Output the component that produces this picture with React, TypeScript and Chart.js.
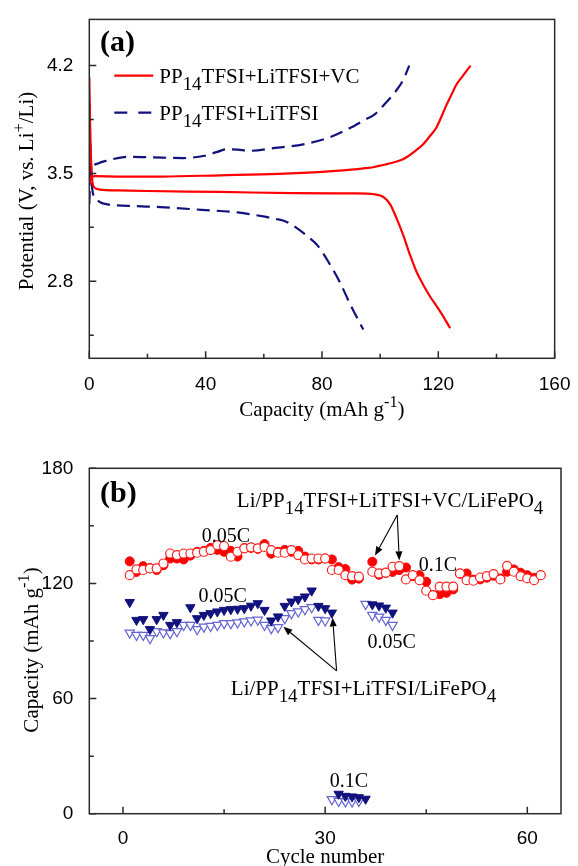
import React, { useEffect, useRef } from 'react';
import { Chart, registerables } from 'chart.js';

Chart.register(...registerables);

// ---------------- Panel (a): charge / discharge profiles ----------------
const vcChargeCapacity = [0, 0.6, 2, 10, 25, 45, 65, 80, 90, 95, 98, 101, 104, 107, 109.5, 112, 114.8, 117, 119.3, 121, 122.7, 124.5, 126.1, 128.5, 131.1];
const vcChargeVoltage = [3.42, 3.475, 3.482, 3.48, 3.48, 3.488, 3.497, 3.51, 3.525, 3.535, 3.542, 3.555, 3.568, 3.585, 3.61, 3.645, 3.69, 3.74, 3.797, 3.865, 3.94, 4.01, 4.073, 4.135, 4.2];
const vcDischargeCapacityA = [0, 0.3, 0.7, 1.2, 2, 3.6, 10, 20, 45, 70, 85, 92, 97.9, 101.3, 103.5, 105.8, 108, 110.3, 112.5, 114.8, 117.1, 120.5, 124.1];
const vcDischargeVoltage = [4.125, 3.8, 3.55, 3.43, 3.405, 3.395, 3.39, 3.386, 3.38, 3.372, 3.37, 3.37, 3.365, 3.345, 3.298, 3.202, 3.096, 2.969, 2.862, 2.778, 2.703, 2.608, 2.495];
const baseChargeCapacity = [0, 0.3, 1, 3, 6, 13.4, 22.2, 32.2, 39.7, 44, 47.2, 51, 54.8, 64.8, 73.6, 82.3, 89.8, 94.9, 97.9, 101.3, 105.2, 108, 110];
const baseChargeVoltage = [3.3, 3.45, 3.53, 3.565, 3.583, 3.608, 3.604, 3.6, 3.615, 3.64, 3.657, 3.655, 3.647, 3.668, 3.689, 3.732, 3.796, 3.85, 3.88, 3.945, 4.03, 4.11, 4.2];
const baseDischargeCapacityA = [0, 0.4, 1, 2.5, 4.6, 13.4, 25.9, 38.5, 51, 59.8, 64, 67.3, 71, 74.5, 78.6, 82.3, 86.1, 89.8, 94.2];
const baseDischargeVoltage = [3.96, 3.65, 3.4, 3.33, 3.306, 3.29, 3.28, 3.264, 3.247, 3.221, 3.205, 3.19, 3.15, 3.1, 3.03, 2.923, 2.796, 2.647, 2.487];

const capacityTicks = [0, 20, 40, 60, 80, 100, 120, 140, 160];
const capacityTickLabels = [0, 40, 80, 120, 160];
const potentialTicks = [2.45, 2.8, 3.15, 3.5, 3.85, 4.2];
const potentialTickLabels = [2.8, 3.5, 4.2];

// ---------------- Panel (b): cycling ----------------
const vcDischargeCycles = [1, 2, 3, 4, 5, 6, 7, 8, 9, 10, 11, 12, 13, 14, 15, 16, 17, 18, 19, 20, 21, 22, 23, 24, 25, 26, 27, 28, 29, 30, 31, 32, 33, 34, 35,
  37, 38, 39, 40, 41, 42, 43, 44, 45, 46, 47, 48, 49, 50, 51, 52, 53, 54, 55, 56, 57, 58, 59, 60, 61];
const vcDischargeCapacity = [131.5, 126, 129, 128, 127, 129.5, 133, 133, 132.5, 134.5, 136.5, 137, 138.5, 137.5, 136.5, 137, 134, 138.5, 138.5, 138, 140.5, 135.5, 136.5, 137.5, 136.5, 137, 134, 132.5, 132.5, 133, 132.5, 128.5, 127.5, 122, 122.5,
  131.3, 124.5, 125.5, 126, 127, 128.3, 123.8, 124.3, 120.9, 114, 114.4, 115.1, 116.9, 125, 125.2, 122, 122.1, 123, 124, 122.6, 126.1, 127.3, 125.6, 124.3, 123];
const vcChargeCycles = [1, 2, 3, 4, 5, 6, 7, 8, 9, 10, 11, 12, 13, 14, 15, 16, 17, 18, 19, 20, 21, 22, 23, 24, 25, 26, 27, 28, 29, 30, 31, 32, 33, 34, 35,
  37, 38, 39, 40, 41, 42, 43, 44, 45, 46, 47, 48, 49, 50, 51, 52, 53, 54, 55, 56, 57, 58, 59, 60, 61, 62];
const vcChargeCapacityB = [124.3, 127.3, 127, 127.8, 127.8, 130.4, 135.6, 134.8, 135.6, 135.6, 136, 136.5, 137.4, 140, 139.5, 133.9, 136.5, 138.3, 138.8, 138.3, 139, 137.4, 136, 136, 137.4, 134.8, 132.5, 133, 133, 133, 127, 127, 124.3, 123.8, 123.5,
  126.1, 125.2, 125.6, 128.7, 129, 122.1, 124.3, 121.7, 116.2, 113.9, 118.3, 118.3, 118.3, 125.2, 121.7, 121.4, 123.1, 123.8, 124.9, 122.1, 129.1, 126.1, 123.8, 122.6, 121.7, 124.3];
const baseDischargeCycles = [1, 2, 3, 4, 5, 6, 7, 8, 10, 11, 12, 13, 14, 15, 16, 17, 18, 19, 20, 21, 22, 23, 24, 25, 26, 27, 28, 29, 30, 31,
  32, 33, 34, 35, 36, 37, 38, 39, 40];
const baseDischargeCapacity = [110.2, 100.9, 101.3, 96.1, 101.3, 103.5, 98.3, 99.7, 107.5, 101.8, 103.5, 104.4, 105.3, 106.1, 106.5, 106.7, 107, 108.3, 109.6, 106.1, 100.6, 102.7, 108.2, 110.5, 111.7, 113.1, 116.2, 108.2, 107, 104.7,
  10.3, 9.2, 8.9, 8.5, 7.7, 109, 108.4, 107.3, 104.7];
const baseChargeCycles = [1, 2, 3, 4, 5, 6, 7, 8, 9, 10, 11, 12, 13, 14, 15, 16, 17, 18, 19, 20, 21, 22, 23, 24, 25, 26, 27, 28, 29, 30,
  31, 32, 33, 34, 35, 36, 37, 38, 39, 40];
const baseChargeCapacityB = [94.3, 93.1, 93.1, 91.4, 95, 94.4, 94, 95, 98.3, 98.3, 96.1, 97.4, 97.8, 98.3, 99.2, 99.2, 99.6, 100.1, 100.6, 101, 98.3, 96.6, 97.1, 101.8, 104.4, 105.3, 106.5, 107.5, 100.9, 100.6,
  7.5, 6.6, 6.3, 6.3, 6.6, 109.2, 103.5, 102.6, 100.9, 98.3];

const cycleTicks = [0, 15, 30, 45, 60];
const cycleTickLabels = [0, 30, 60];
const cycCapacityTicks = [0, 30, 60, 90, 120, 150, 180];
const cycCapacityTickLabels = [0, 60, 120, 180];

// ---------------- helpers ----------------
const SERIF = '"Liberation Serif", "Times New Roman", Times, serif';
const SANS = '"Liberation Sans", Arial, Helvetica, sans-serif';
const RED = '#ff0000';
const NAVY = '#12127e';
const LIGHTBLUE = '#6464d2';

type Seg = { t: string; s?: 'sub' | 'sup' };

function segFont(seg: Seg, size: number, weight: string) {
  const f = seg.s === 'sub' ? 0.9 : seg.s === 'sup' ? 0.78 : 1;
  return `${weight} ${size * f}px ${SERIF}`;
}

function drawRich(ctx: CanvasRenderingContext2D, segs: Seg[], x: number, y: number, size: number, align: 'left' | 'center', weight = 'normal') {
  let total = 0;
  const widths = segs.map((s) => {
    ctx.font = segFont(s, size, weight);
    const w = ctx.measureText(s.t).width;
    total += w;
    return w;
  });
  let cx = align === 'center' ? x - total / 2 : x;
  ctx.textAlign = 'left';
  ctx.textBaseline = 'alphabetic';
  segs.forEach((s, i) => {
    ctx.font = segFont(s, size, weight);
    const dy = s.s === 'sub' ? size * 0.32 : s.s === 'sup' ? -size * 0.42 : 0;
    ctx.fillText(s.t, cx, y + dy);
    cx += widths[i];
  });
}

function drawArrow(ctx: CanvasRenderingContext2D, x1: number, y1: number, x2: number, y2: number) {
  const ang = Math.atan2(y2 - y1, x2 - x1);
  const len = 9;
  const hw = 3.5;
  const bx = x2 - Math.cos(ang) * len;
  const by = y2 - Math.sin(ang) * len;
  ctx.beginPath();
  ctx.moveTo(x1, y1);
  ctx.lineTo(bx, by);
  ctx.stroke();
  ctx.beginPath();
  ctx.moveTo(x2, y2);
  ctx.lineTo(bx + Math.sin(ang) * hw, by - Math.cos(ang) * hw);
  ctx.lineTo(bx - Math.sin(ang) * hw, by + Math.cos(ang) * hw);
  ctx.closePath();
  ctx.fill();
}

const makeTicks = (values: number[]) => (axis: any) => {
  axis.ticks = values.map((v) => ({ value: v }));
};
const isLabel = (v: number, labels: number[]) => labels.some((l) => Math.abs(l - v) < 1e-6);

const frameTicksPlugin = {
  id: 'frameTicks',
  afterDraw(chart: any) {
    const { ctx, chartArea } = chart;
    const { left, right, top, bottom } = chartArea;
    ctx.save();
    ctx.strokeStyle = '#2a2a2a';
    ctx.lineWidth = 1.5;
    ctx.strokeRect(left, top, right - left, bottom - top);
    const xs = chart.scales.x;
    const ys = chart.scales.y;
    ctx.beginPath();
    xs.ticks.forEach((t: any) => {
      const p = xs.getPixelForValue(t.value);
      const len = t.label !== '' ? 7 : 4.5;
      ctx.moveTo(p, bottom);
      ctx.lineTo(p, bottom - len);
    });
    ys.ticks.forEach((t: any) => {
      const p = ys.getPixelForValue(t.value);
      const len = t.label !== '' ? 7 : 4.5;
      ctx.moveTo(left, p);
      ctx.lineTo(left + len, p);
    });
    ctx.stroke();
    ctx.restore();
  },
};

const tickFont = { family: SANS, size: 19 };

function baseScale(min: number, max: number, ticks: number[], labels: number[], fmt: (v: number) => string, padding: number, fit: (s: any) => void) {
  return {
    type: 'linear' as const,
    min,
    max,
    afterBuildTicks: makeTicks(ticks),
    afterFit: fit,
    grid: { display: false },
    border: { display: false },
    ticks: {
      autoSkip: false,
      maxRotation: 0,
      padding,
      color: '#000',
      font: tickFont,
      callback: (v: any) => (isLabel(Number(v), labels) ? fmt(Number(v)) : ''),
    },
  };
}

const toXY = (xs: number[], ys: number[]) => xs.map((x, i) => ({ x, y: ys[i] }));

// ---------------- Panel (a) chart ----------------
const panelATextPlugin = {
  id: 'panelAText',
  afterDraw(chart: any) {
    const { ctx, chartArea } = chart;
    const { left, right, top } = chartArea;
    ctx.save();
    ctx.fillStyle = '#000';
    drawRich(ctx, [{ t: '(a)' }], left + 10.7, top + 32, 30, 'left', 'bold');
    // legend
    ctx.strokeStyle = RED;
    ctx.lineWidth = 2.2;
    ctx.beginPath();
    ctx.moveTo(left + 25, top + 56.3);
    ctx.lineTo(left + 64, top + 56.3);
    ctx.stroke();
    ctx.strokeStyle = NAVY;
    ctx.setLineDash([13, 11]);
    ctx.beginPath();
    ctx.moveTo(left + 25, top + 93.3);
    ctx.lineTo(left + 64, top + 93.3);
    ctx.stroke();
    ctx.setLineDash([]);
    ctx.fillStyle = '#000';
    drawRich(ctx, [{ t: 'PP' }, { t: '14', s: 'sub' }, { t: 'TFSI+LiTFSI+VC' }], left + 70, top + 64, 21, 'left');
    drawRich(ctx, [{ t: 'PP' }, { t: '14', s: 'sub' }, { t: 'TFSI+LiTFSI' }], left + 70, top + 100.5, 21, 'left');
    // axis titles
    drawRich(ctx, [{ t: 'Capacity (mAh g' }, { t: '-1', s: 'sup' }, { t: ')' }], (left + right) / 2, 416, 21, 'center');
    ctx.translate(33, 191);
    ctx.rotate(-Math.PI / 2);
    drawRich(ctx, [{ t: 'Potential (V, vs. Li' }, { t: '+', s: 'sup' }, { t: '/Li)' }], 0, 0, 21, 'center');
    ctx.restore();
  },
};

// ---------------- Panel (b) chart ----------------
const panelBTextPlugin = {
  id: 'panelBText',
  afterDraw(chart: any) {
    const { ctx, chartArea, scales } = chart;
    const { left, right, top } = chartArea;
    const px = (v: number) => scales.x.getPixelForValue(v);
    const py = (v: number) => scales.y.getPixelForValue(v);
    ctx.save();
    ctx.fillStyle = '#000';
    drawRich(ctx, [{ t: '(b)' }], left + 10.7, top + 34, 30, 'left', 'bold');
    drawRich(ctx, [{ t: 'Li/PP' }, { t: '14', s: 'sub' }, { t: 'TFSI+LiTFSI+VC/LiFePO' }, { t: '4', s: 'sub' }], px(16.9), py(159.8), 21, 'left');
    drawRich(ctx, [{ t: '0.05C' }], px(11.7), py(141.6), 20, 'left');
    drawRich(ctx, [{ t: '0.1C' }], px(43.9), py(126.5), 20, 'left');
    drawRich(ctx, [{ t: '0.05C' }], px(11.2), py(110.3), 20, 'left');
    drawRich(ctx, [{ t: '0.05C' }], px(36.3), py(86.3), 20, 'left');
    drawRich(ctx, [{ t: 'Li/PP' }, { t: '14', s: 'sub' }, { t: 'TFSI+LiTFSI/LiFePO' }, { t: '4', s: 'sub' }], px(16.0), py(61.9), 21, 'left');
    drawRich(ctx, [{ t: '0.1C' }], px(30.7), py(13.8), 20, 'left');
    // arrows
    ctx.strokeStyle = '#000';
    ctx.lineWidth = 1.1;
    drawArrow(ctx, px(40.7), py(155.7), px(37.4), py(134.5));
    drawArrow(ctx, px(40.7), py(155.7), px(41.0), py(132));
    drawArrow(ctx, px(31.7), py(74.4), px(23.8), py(97.4));
    drawArrow(ctx, px(31.7), py(74.4), px(31.1), py(102.3));
    // axis titles
    drawRich(ctx, [{ t: 'Cycle number' }], (left + right) / 2, 429.6, 21, 'center');
    ctx.translate(38, 217);
    ctx.rotate(-Math.PI / 2);
    drawRich(ctx, [{ t: 'Capacity (mAh g' }, { t: '-1', s: 'sup' }, { t: ')' }], 0, 0, 21, 'center');
    ctx.restore();
  },
};

function PanelA() {
  const ref = useRef<HTMLCanvasElement>(null);
  useEffect(() => {
    if (!ref.current) return;
    const chart = new Chart(ref.current, {
      type: 'scatter',
      data: {
        datasets: [
          { label: 'VC charge', data: toXY(vcChargeCapacity, vcChargeVoltage), showLine: true, borderColor: RED, borderWidth: 2.2, pointRadius: 0, cubicInterpolationMode: 'monotone' },
          { label: 'VC discharge', data: toXY(vcDischargeCapacityA, vcDischargeVoltage), showLine: true, borderColor: RED, borderWidth: 2.2, pointRadius: 0, cubicInterpolationMode: 'monotone' },
          { label: 'charge', data: toXY(baseChargeCapacity, baseChargeVoltage), showLine: true, borderColor: NAVY, borderWidth: 2.2, borderDash: [13, 7], pointRadius: 0, cubicInterpolationMode: 'monotone' },
          { label: 'discharge', data: toXY(baseDischargeCapacityA, baseDischargeVoltage), showLine: true, borderColor: NAVY, borderWidth: 2.2, borderDash: [13, 7], pointRadius: 0, cubicInterpolationMode: 'monotone' },
        ] as any,
      },
      options: {
        responsive: false,
        animation: false,
        events: [],
        layout: { padding: { left: 0, top: 12.7, right: 17, bottom: 0 } },
        plugins: { legend: { display: false }, tooltip: { enabled: false } },
        scales: {
          x: baseScale(0, 160, capacityTicks, capacityTickLabels, (v) => String(v), 7.5, (s: any) => { s.height = 74.7; }),
          y: baseScale(2.3, 4.5, potentialTicks, potentialTickLabels, (v) => v.toFixed(1), 8, (s: any) => { s.width = 89.3; }),
        } as any,
      },
      plugins: [frameTicksPlugin, panelATextPlugin],
    });
    return () => chart.destroy();
  }, []);
  return <canvas ref={ref} width={578} height={433} style={{ display: 'block' }} />;
}

function PanelB() {
  const ref = useRef<HTMLCanvasElement>(null);
  useEffect(() => {
    if (!ref.current) return;
    const chart = new Chart(ref.current, {
      type: 'scatter',
      data: {
        datasets: [
          { label: 'VC discharge', data: toXY(vcDischargeCycles, vcDischargeCapacity), pointStyle: 'circle', pointRadius: 4.5, pointBackgroundColor: RED, pointBorderColor: RED, pointBorderWidth: 1, order: 2 },
          { label: 'VC charge', data: toXY(vcChargeCycles, vcChargeCapacityB), pointStyle: 'circle', pointRadius: 4.5, pointBackgroundColor: '#ffffff', pointBorderColor: '#ff2020', pointBorderWidth: 1.2, order: 1 },
          { label: 'discharge', data: toXY(baseDischargeCycles, baseDischargeCapacity), pointStyle: 'triangle', pointRotation: 180, pointRadius: 5.4, pointBackgroundColor: NAVY, pointBorderColor: NAVY, pointBorderWidth: 1, order: 3 },
          { label: 'charge', data: toXY(baseChargeCycles, baseChargeCapacityB), pointStyle: 'triangle', pointRotation: 180, pointRadius: 5.4, pointBackgroundColor: '#ffffff', pointBorderColor: LIGHTBLUE, pointBorderWidth: 1.2, order: 4 },
        ] as any,
      },
      options: {
        responsive: false,
        animation: false,
        events: [],
        layout: { padding: { left: 0, top: 35.3, right: 17, bottom: 0 } },
        plugins: { legend: { display: false }, tooltip: { enabled: false } },
        scales: {
          x: baseScale(-5, 65, cycleTicks, cycleTickLabels, (v) => String(v), 6, (s: any) => { s.height = 52.3; }),
          y: baseScale(0, 180, cycCapacityTicks, cycCapacityTickLabels, (v) => String(v), 8, (s: any) => { s.width = 89.3; }),
        } as any,
      },
      plugins: [frameTicksPlugin, panelBTextPlugin],
    });
    return () => chart.destroy();
  }, []);
  return <canvas ref={ref} width={578} height={433} style={{ display: 'block' }} />;
}

export default function App() {
  return (
    <div style={{ position: 'absolute', left: 0, top: 0, width: 578, height: 866, background: '#ffffff', overflow: 'hidden' }}>
      <PanelA />
      <PanelB />
    </div>
  );
}
